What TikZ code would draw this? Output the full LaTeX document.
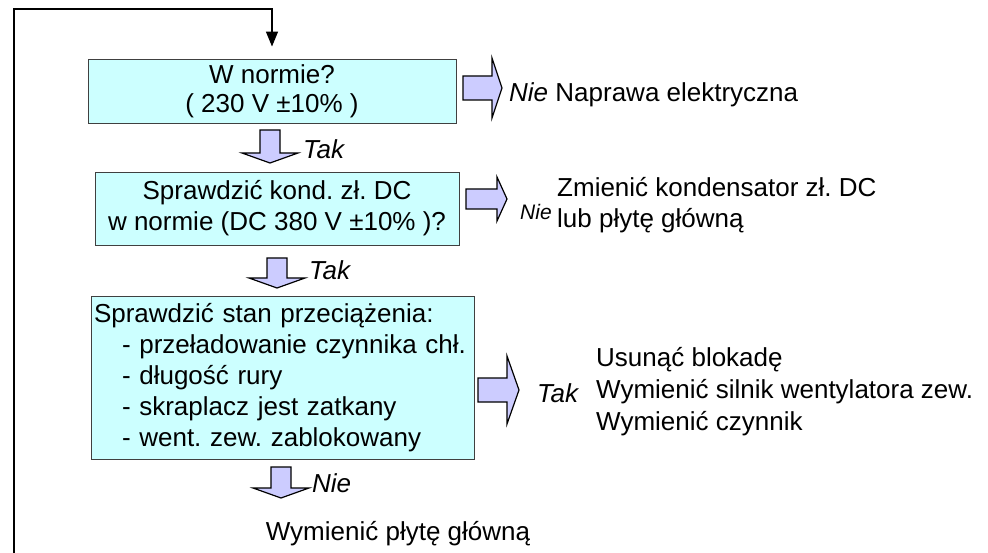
\documentclass[tikz,border=0pt]{standalone}
\usepackage{fontspec}
\setmainfont{Liberation Sans}
\usetikzlibrary{arrows.meta}
\definecolor{boxfill}{HTML}{CCFFFF}
\definecolor{arrfill}{HTML}{CCCCFF}
\tikzset{
  stepbox/.style={draw=black!75, line width=0.9pt, fill=boxfill, inner sep=0pt, font=\fontsize{26}{31}\selectfont},
  barrow/.style={draw=black, line width=1.2pt, fill=arrfill, line join=miter},
  lbl/.style={inner sep=0pt, font=\fontsize{26}{31}\selectfont},
  ilbl/.style={inner sep=0pt, font=\fontsize{26}{31}\selectfont\itshape},
  loopline/.style={line width=1.4pt, -{Triangle[length=15pt,width=12pt]}}
}
\newcommand{\dnarrow}[3]{% cx, ytop, ytip
  \draw[barrow] ({#1-10},{#2}) -- ({#1+10},{#2}) -- ({#1+10},{#3-10}) -- ({#1+28},{#3-10}) -- ({#1},{#3}) -- ({#1-28},{#3-10}) -- ({#1-10},{#3-10}) -- cycle;}
\newcommand{\rtarrow}[6]{% xleft, cy, xshaftend, xtip, shaft half h, head half h
  \draw[barrow] ({#1},{#2-#5}) -- ({#3},{#2-#5}) -- ({#3},{#2-#6}) -- ({#4},{#2}) -- ({#3},{#2+#6}) -- ({#3},{#2+#5}) -- ({#1},{#2+#5}) -- cycle;}
\begin{document}
\frenchspacing
\begin{tikzpicture}[x=1pt,y=-1pt]
\useasboundingbox (0,0) rectangle (988,553);
\fill[white] (0,0) rectangle (988,553);

% boxes
\node[stepbox, minimum width=368pt, minimum height=64pt, align=center, font=\fontsize{26}{29}\selectfont] (b1) at (272,91)
  {W normie?\\( 230 V ±10\% )};
\node[stepbox, minimum width=364pt, minimum height=73pt, align=center] (b2) at (277,208.5)
  {Sprawdzić kond. zł. DC\\w normie (DC 380 V ±10\% )?};
\node[stepbox, minimum width=383pt, minimum height=163pt, text width=378pt, align=left] (b3) at (283,377.5)
  {Sprawdzić stan przeciążenia:\\
   \hspace*{28pt}- przeładowanie czynnika chł.\\
   \hspace*{28pt}- długość rury\\
   \hspace*{28pt}- skraplacz jest zatkany\\
   \hspace*{28pt}- went. zew. zablokowany};

% loop connector
\coordinate (ls) at (14,553);
\coordinate (lt) at (14,9);
\draw[loopline, shorten >=12pt] (ls) -- (lt) -| (b1.north);

% down block arrows
\dnarrow{270}{130}{163}
\dnarrow{277}{258}{288}
\dnarrow{281}{467}{498}
\node[ilbl, anchor=west] (t1) at (303,149) {Tak};
\node[ilbl, anchor=west] (t2) at (309,270) {Tak};
\node[ilbl, anchor=west] (n3) at (312,483) {Nie};
\node[lbl] (r4) at (398,534) {Wymienić płytę główną};

% right block arrows
\rtarrow{463}{88}{492}{502}{12}{30}
\rtarrow{466}{199}{497}{507}{10}{22}
\rtarrow{478}{390}{507}{519}{12}{34}

\node[lbl, anchor=west] (r1) at (509,95) {\textit{Nie} Naprawa elektryczna};
\node[inner sep=0pt, anchor=west, font=\fontsize{21}{24}\selectfont\itshape] (n2) at (520,212) {Nie};
\node[lbl, anchor=west, align=left] (r2) at (557,205) {Zmienić kondensator zł. DC\\lub płytę główną};
\node[ilbl, anchor=west] (t3) at (537,393) {Tak};
\node[lbl, anchor=west, align=left, font=\fontsize{26}{32}\selectfont] (r3) at (596,392)
  {Usunąć blokadę\\Wymienić silnik wentylatora zew.\\Wymienić czynnik};
\end{tikzpicture}
\end{document}
